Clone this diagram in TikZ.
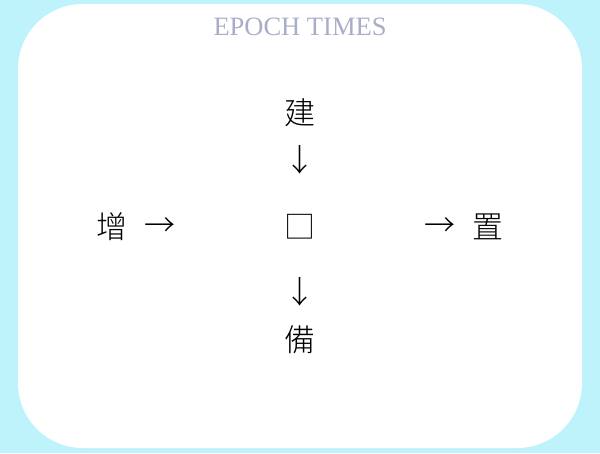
\documentclass[tikz,border=0pt]{standalone}
\usepackage{fontspec}
\setmainfont{Liberation Serif}
\newfontfamily\cjk[UprightFont={* Light}]{Noto Sans CJK TC}
\definecolor{bgcyan}{RGB}{191,243,252}
\definecolor{logogray}{RGB}{169,174,200}
\tikzset{
  hanzi/.style={font=\cjk\fontsize{31}{31}\selectfont, inner sep=0pt},
  pointer/.style={font=\cjk\fontsize{31}{31}\selectfont, inner sep=0pt}
}
\begin{document}
\begin{tikzpicture}[x=1pt,y=-1pt]
\fill[bgcyan] (0,0) rectangle (600,453);
\fill[white, rounded corners=65pt] (18,4) rectangle (582,448);

\node[logogray, font=\fontsize{26.5}{26.5}\selectfont, inner sep=0pt] (logo) at (300,27) {EPOCH TIMES};

\node[hanzi] (jian) at (300,113) {建};
\node[pointer] (downA) at (300,160) {↓};
\node[hanzi] (box) at (300,227) {□};
\node[pointer] (downB) at (300,292) {↓};
\node[hanzi] (bei) at (300,340) {備};

\node[hanzi] (zeng) at (112,227) {增};
\node[pointer] (rightA) at (160,227) {→};
\node[pointer] (rightB) at (440,227) {→};
\node[hanzi] (zhi) at (488,227) {置};

\end{tikzpicture}
\end{document}
